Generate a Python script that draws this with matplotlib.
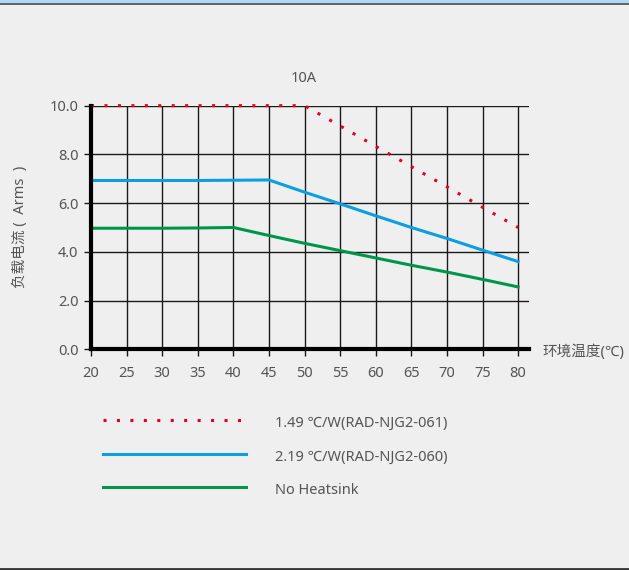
import matplotlib
matplotlib.use("Agg")
import matplotlib.pyplot as plt
from matplotlib.lines import Line2D
import numpy as np

plt.rcParams['font.family'] = ['Noto Sans', 'Noto Sans CJK SC', 'DejaVu Sans']

# derating curves, load current vs ambient temperature
temps = [20, 25, 30, 35, 40, 45, 50, 55, 60, 65, 70, 75, 80]
rad_061 = [10.0, 10.0, 10.0, 10.0, 10.0, 10.0, 10.0, 9.17, 8.33, 7.5, 6.67, 5.83, 5.0]
rad_060 = [6.93, 6.93, 6.93, 6.93, 6.94, 6.95, 6.45, 5.97, 5.48, 5.0, 4.55, 4.07, 3.6]
no_sink = [4.97, 4.97, 4.97, 4.98, 5.0, 4.67, 4.35, 4.05, 3.75, 3.45, 3.17, 2.87, 2.56]

series_labels = ['1.49 \u2103/W(RAD-NJG2-061)', '2.19 \u2103/W(RAD-NJG2-060)', 'No Heatsink']
series_colors = ['#e5001f', '#0a9fe0', '#00954a']

x_ticks = list(range(20, 81, 5))
y_ticks = [0, 2, 4, 6, 8, 10]

bg = '#efefef'
txt = '#555555'
fs = 10.5

fig = plt.figure(figsize=(6.29, 5.70), dpi=100, facecolor=bg)
ax = fig.add_axes([0.1447, 0.3872, 0.696, 0.4274], facecolor=bg)

ax.set_xlim(20, 81.5)
ax.set_ylim(0, 10)
ax.set_xticks(x_ticks)
ax.set_yticks(y_ticks)
ax.set_yticklabels([f'{v:.1f}' for v in y_ticks])
ax.grid(True, color='#1a1a1a', linewidth=1)
ax.set_axisbelow(True)
ax.tick_params(direction='out', length=5, width=1, color='#1a1a1a',
               labelsize=fs, labelcolor=txt)
ax.tick_params(axis='x', pad=7)
ax.tick_params(axis='y', pad=4)

for s in ('top', 'right'):
    ax.spines[s].set_visible(False)
for s in ('left', 'bottom'):
    ax.spines[s].set_linewidth(3)
    ax.spines[s].set_color('black')
    ax.spines[s].set_zorder(5)

ax.plot(temps, rad_061, color=series_colors[0], linewidth=2.2,
        linestyle=(0, (1, 3.4)), clip_on=False, zorder=4)
ax.plot(temps, rad_060, color=series_colors[1], linewidth=2.2, zorder=4)
ax.plot(temps, no_sink, color=series_colors[2], linewidth=2.2, zorder=4)

fig.text(304 / 629, 1 - 78 / 570, '10A', ha='center', va='center',
         fontsize=fs, color=txt)
fig.text(20 / 629, 1 - 227 / 570, '负载电流 (  Arms  )', rotation=90,
         ha='center', va='center', fontsize=fs, color=txt)
fig.text(542 / 629, 1 - 352 / 570, '环境温度(\u2103)', ha='left', va='center',
         fontsize=fs, color=txt)

# legend drawn by hand below the chart
leg_y = [420, 454, 487]
leg_styles = [(0, (1, 3.4)), '-', '-']
for y, lab, col, ls in zip(leg_y, series_labels, series_colors, leg_styles):
    yf = 1 - y / 570
    fig.add_artist(Line2D([103 / 629, 246 / 629], [yf, yf], color=col,
                          linewidth=2.2, linestyle=ls))
    fig.text(275 / 629, yf - 3 / 570, lab, ha='left', va='center',
             fontsize=fs, color=txt)

# window frame lines
fig.add_artist(Line2D([0, 1], [1 - 1 / 570, 1 - 1 / 570], color='#a9d8f5', linewidth=2))
fig.add_artist(Line2D([0, 1], [1 - 3.5 / 570, 1 - 3.5 / 570], color='#4a4a4a', linewidth=1.2))
fig.add_artist(Line2D([0, 1], [1.2 / 570, 1.2 / 570], color='#333333', linewidth=2))

fig.savefig('out.png', dpi=100, facecolor=bg)
